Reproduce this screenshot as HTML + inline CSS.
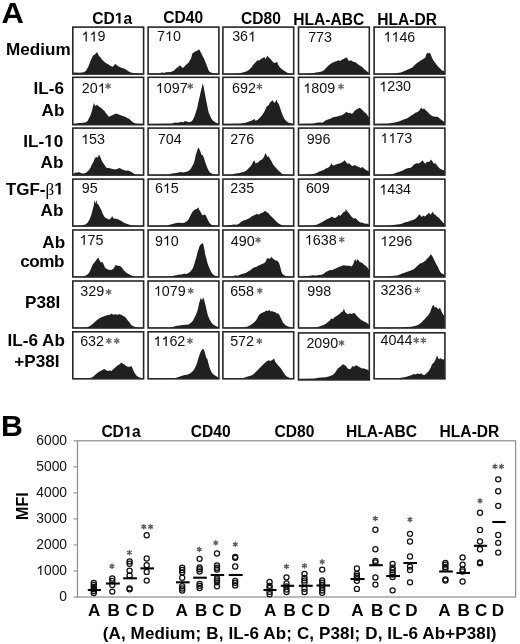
<!DOCTYPE html>
<html><head><meta charset="utf-8"><style>
html,body{margin:0;padding:0;background:#fff;overflow:hidden;}
svg{display:block;will-change:transform;font-family:"Liberation Sans",sans-serif;}
</style></head><body>
<svg width="520" height="644" viewBox="0 0 520 644">
<polygon points="72.8,74.1 73.9,72.5 79.7,72.8 84.0,72.3 86.1,70.4 88.3,66.8 90.5,61.0 92.3,57.0 93.4,55.3 94.8,54.5 96.2,53.1 97.2,52.1 98.1,54.5 99.1,56.0 100.6,57.4 102.0,59.6 104.2,61.7 106.3,63.2 108.5,64.6 110.7,66.1 112.8,66.8 114.3,65.1 115.4,63.9 116.9,65.3 118.6,66.5 120.8,67.5 122.9,68.2 125.1,68.9 127.2,70.4 128.7,71.4 130.9,72.5 134.5,73.3 143.1,73.6 143.6,74.1" fill="#202020"/>
<polygon points="148.1,74.1 148.9,73.6 160.4,73.3 161.9,72.3 163.3,73.0 166.2,72.3 170.5,72.0 173.4,71.1 174.8,69.7 176.3,68.2 178.5,66.8 179.9,65.3 181.3,66.8 182.8,67.9 184.2,66.8 186.4,64.6 188.5,62.7 190.0,60.3 191.4,57.4 192.2,53.8 193.6,52.4 195.8,51.2 197.6,50.6 199.1,49.2 200.1,50.9 201.5,53.8 203.0,56.7 204.4,59.6 205.9,63.2 207.3,66.8 208.3,69.7 209.5,71.8 211.6,72.8 213.8,73.3 218.1,73.6 218.9,74.1" fill="#202020"/>
<polygon points="222.9,74.1 223.9,73.7 238.3,73.4 242.6,72.5 246.2,71.4 249.1,69.7 251.3,67.5 253.5,64.6 255.6,62.2 257.8,60.0 258.8,60.7 260.7,59.3 262.8,58.1 264.3,57.0 265.7,59.3 267.2,55.5 268.6,57.4 270.0,58.4 271.5,60.3 273.6,62.7 275.8,62.7 277.2,61.7 278.0,64.6 279.4,66.8 281.6,68.9 284.5,71.1 287.3,72.8 290.2,73.4 293.1,73.7 293.7,74.1" fill="#202020"/>
<polygon points="298.5,74.1 299.9,73.7 312.9,73.3 315.8,72.5 318.6,72.3 321.5,71.4 323.7,70.4 325.8,68.2 328.0,66.1 330.2,64.2 332.3,62.7 334.8,61.7 337.1,61.0 338.8,60.3 340.3,61.0 342.0,59.6 343.9,58.9 345.3,57.8 346.8,57.4 347.8,59.3 348.9,61.0 351.1,60.3 353.2,61.7 355.4,62.2 357.6,63.9 359.7,65.6 361.9,66.8 364.1,68.9 366.2,70.8 368.4,72.5 369.1,73.7 369.3,74.1" fill="#202020"/>
<polygon points="374.1,74.1 374.9,73.7 393.6,73.4 400.8,72.5 404.5,71.1 407.3,69.7 410.2,68.5 412.4,67.5 414.5,65.3 416.7,63.2 418.9,61.7 421.0,60.3 423.2,58.9 425.4,57.4 426.5,53.8 427.5,52.4 428.5,53.8 429.7,52.4 430.8,54.5 431.9,57.4 433.3,60.3 435.5,63.2 437.6,66.1 439.8,68.2 442.0,70.4 444.1,71.1 444.4,73.7 444.9,74.1" fill="#202020"/>
<polygon points="72.8,124.7 73.9,123.7 79.7,123.0 85.4,122.5 87.6,121.1 89.0,118.2 90.5,115.3 91.9,111.0 92.9,106.7 93.8,103.1 94.8,105.3 95.8,106.0 97.0,104.5 98.1,106.0 99.8,107.0 101.3,108.1 102.7,109.6 104.5,111.0 105.6,112.7 107.1,114.6 108.8,116.8 110.7,116.1 112.8,115.1 114.3,114.2 116.4,113.6 118.6,114.6 120.8,115.3 122.9,116.1 125.1,116.8 127.2,117.9 129.4,118.9 130.9,120.4 132.3,121.8 133.7,122.8 135.9,123.4 143.1,123.7 143.6,124.7" fill="#202020"/>
<polygon points="148.1,124.7 148.9,123.7 172.0,123.4 174.8,122.5 177.7,122.8 180.6,122.0 183.5,122.3 184.9,121.1 187.1,121.8 189.3,122.3 191.4,121.4 192.9,119.7 194.3,116.8 195.3,113.9 196.5,110.3 197.6,106.0 198.6,100.9 199.7,96.6 200.8,91.6 202.0,86.5 202.7,83.6 203.4,85.8 204.4,90.8 205.4,96.6 206.6,102.4 207.7,108.1 208.7,112.5 210.2,116.1 211.6,118.9 213.1,120.8 215.2,122.3 217.4,123.3 218.8,123.7 218.9,124.7" fill="#202020"/>
<polygon points="222.9,124.7 223.9,123.7 239.8,123.4 245.5,122.8 249.1,121.4 252.0,120.4 254.2,118.9 255.6,120.8 257.8,119.7 259.9,117.5 262.1,115.3 264.3,111.7 266.0,108.1 267.2,106.0 268.6,105.3 270.0,102.4 271.8,100.9 272.9,100.2 274.1,103.1 275.5,101.7 276.5,99.5 277.5,102.4 278.7,103.8 280.1,108.1 281.6,112.5 283.0,116.1 284.5,118.9 286.2,121.1 288.1,122.5 291.0,123.3 293.7,123.7 293.7,124.7" fill="#202020"/>
<polygon points="298.5,124.7 299.9,123.7 312.9,123.4 318.6,122.5 323.0,122.5 325.1,120.8 327.3,119.7 329.5,118.9 331.6,117.9 333.8,117.1 335.9,116.8 338.8,116.1 341.0,115.6 343.2,114.6 345.3,112.7 346.8,111.7 348.2,113.2 350.1,112.7 351.8,113.9 353.2,112.7 354.7,110.7 356.4,109.6 358.3,108.4 359.7,107.8 361.2,108.9 362.6,110.3 364.5,112.2 366.2,113.6 368.0,116.1 369.3,118.2 369.3,123.7 369.3,124.7" fill="#202020"/>
<polygon points="374.1,124.7 374.9,123.7 387.9,123.4 393.6,122.8 398.0,121.8 400.8,120.8 403.0,119.7 405.2,118.9 407.3,118.2 409.5,116.8 411.7,115.3 413.8,113.9 415.3,112.7 417.0,112.2 418.9,111.0 420.3,108.9 421.3,107.8 422.8,109.3 424.2,108.4 425.7,110.3 427.5,111.7 429.0,113.6 431.1,115.3 433.3,116.5 435.5,116.8 437.6,116.8 439.1,117.9 440.9,119.4 442.7,120.8 444.1,121.8 444.8,123.7 444.9,124.7" fill="#202020"/>
<polygon points="72.8,175.1 73.9,174.7 73.9,173.5 75.3,172.4 76.8,172.8 78.9,172.1 81.1,173.3 84.0,173.5 86.1,172.8 88.3,170.7 90.5,167.8 91.9,164.6 93.4,162.0 94.8,158.4 96.2,157.0 97.7,157.7 99.1,154.5 100.6,157.7 102.0,161.3 103.5,163.5 104.9,165.6 106.3,167.8 108.5,168.1 110.7,168.5 112.8,168.9 115.0,169.5 117.2,168.9 119.3,168.1 121.5,168.9 123.6,169.9 125.8,170.7 128.0,170.4 129.4,170.9 130.9,171.8 132.3,172.4 133.7,173.5 135.2,174.4 143.1,174.7 143.6,175.1" fill="#202020"/>
<polygon points="148.1,175.1 148.9,174.7 169.1,174.4 172.0,173.5 174.8,173.3 177.7,172.8 180.6,172.1 183.5,172.4 186.4,171.8 188.5,170.9 190.7,168.9 192.2,166.3 193.6,163.7 194.8,159.9 195.8,154.8 197.2,150.5 198.2,147.6 199.4,149.1 200.5,151.9 201.5,154.8 203.0,155.5 204.1,158.4 205.1,162.0 206.3,164.9 207.3,167.8 208.7,170.7 210.2,172.8 212.3,173.8 215.2,174.4 218.8,174.7 218.9,175.1" fill="#202020"/>
<polygon points="222.9,175.1 223.9,174.7 232.5,174.4 235.4,173.5 238.3,173.3 241.2,172.4 244.1,171.8 246.2,170.7 248.4,168.5 250.6,166.3 252.0,164.2 253.5,161.3 254.5,160.6 255.6,163.5 257.1,162.7 258.8,162.0 260.2,160.3 262.1,159.4 264.0,157.0 265.4,153.1 266.4,154.8 267.4,157.0 268.6,156.3 270.0,159.1 271.5,161.3 272.9,164.2 274.4,166.3 275.8,167.8 277.2,169.2 278.7,170.7 280.1,172.1 281.6,173.5 283.7,174.4 293.1,174.7 293.7,175.1" fill="#202020"/>
<polygon points="298.5,175.1 299.9,174.7 310.0,174.4 314.3,173.8 317.2,172.8 319.4,171.4 321.5,170.7 323.7,169.9 325.8,168.5 328.0,167.8 329.9,166.3 331.3,163.2 332.3,164.9 334.2,165.6 335.9,164.6 338.1,163.7 340.3,163.2 342.4,162.3 344.6,160.3 346.0,162.0 347.5,163.7 349.2,163.2 351.1,165.2 353.0,166.1 354.7,164.9 356.9,166.3 359.0,167.1 360.8,168.1 362.6,167.1 364.1,168.5 365.9,169.9 367.7,170.7 369.1,171.8 369.3,174.7 369.3,175.1" fill="#202020"/>
<polygon points="374.1,175.1 374.9,174.7 389.3,174.4 393.6,173.8 396.5,172.8 399.4,171.8 402.3,170.7 404.5,169.5 406.6,168.5 408.8,168.1 410.9,167.8 412.4,166.3 414.5,164.2 416.7,163.2 418.9,163.5 421.0,161.7 422.5,160.3 423.9,162.3 425.4,163.7 426.8,161.7 429.0,162.0 431.1,159.4 432.6,161.7 434.0,163.7 435.5,163.2 436.9,165.2 438.3,167.1 439.8,168.5 441.5,169.5 443.0,169.9 444.4,170.7 444.8,174.7 444.9,175.1" fill="#202020"/>
<polygon points="72.8,226.1 73.9,225.7 81.1,225.4 85.4,224.5 87.6,222.8 89.5,219.5 91.2,215.2 92.6,210.1 93.8,205.1 94.5,200.1 95.5,203.7 96.4,200.1 97.2,203.7 98.4,204.4 99.8,207.3 101.3,210.1 102.7,213.7 104.2,216.6 105.6,218.1 107.3,218.8 109.2,219.5 111.1,218.1 112.1,215.9 113.1,218.1 115.0,218.8 117.2,219.1 119.3,219.9 121.5,220.9 123.6,222.4 125.8,223.4 128.7,224.5 131.6,225.4 143.1,225.7 143.6,226.1" fill="#202020"/>
<polygon points="148.1,226.1 148.9,225.7 167.6,225.4 170.5,224.5 173.4,223.8 176.3,223.1 179.2,222.8 182.1,223.1 184.2,222.8 186.4,221.7 188.5,219.5 190.0,216.6 191.4,213.7 192.9,211.3 195.0,209.4 196.8,209.0 198.2,207.3 199.4,210.1 200.8,212.3 202.2,215.2 203.7,214.7 205.1,214.5 206.3,216.6 207.7,219.5 209.2,222.4 210.9,224.5 213.8,225.4 218.8,225.7 218.9,226.1" fill="#202020"/>
<polygon points="222.9,226.1 223.9,225.7 229.7,225.3 234.0,224.5 236.9,224.8 239.0,223.8 241.2,221.7 243.4,220.5 245.5,219.9 247.7,219.1 249.8,218.1 251.6,216.6 253.5,215.6 255.3,214.7 257.1,213.7 258.8,214.7 260.7,213.3 262.5,212.7 264.3,211.3 265.4,210.9 266.9,212.3 268.3,213.0 270.0,215.2 272.2,217.3 274.4,219.5 276.5,221.7 278.7,223.4 280.9,224.8 283.0,225.4 293.1,225.7 293.7,226.1" fill="#202020"/>
<polygon points="298.5,226.1 299.9,225.7 312.9,225.4 316.5,224.8 319.4,223.4 322.2,221.9 325.1,220.2 327.3,219.1 329.9,218.1 331.9,216.6 333.1,217.6 335.2,218.1 337.4,216.6 338.8,214.7 340.3,215.9 341.7,214.2 343.4,212.3 345.3,211.3 346.0,209.0 347.2,211.3 348.6,212.7 350.1,214.7 351.8,217.1 354.0,218.8 355.4,218.1 356.9,219.5 358.3,220.9 360.5,222.4 362.6,222.8 364.8,223.8 367.0,223.4 369.1,224.8 369.3,225.7 369.3,226.1" fill="#202020"/>
<polygon points="374.1,226.1 374.9,225.7 389.3,225.4 395.1,224.8 399.4,224.3 402.3,223.4 404.5,222.4 406.6,221.9 408.8,221.4 410.9,220.5 413.1,219.9 415.3,218.8 417.0,217.3 418.4,215.6 419.6,214.2 420.8,215.9 421.8,217.1 423.2,215.6 424.6,216.6 426.1,215.6 427.5,214.2 429.0,212.7 430.4,214.7 431.9,213.0 432.9,211.6 434.0,214.2 435.5,214.7 436.9,216.6 438.3,217.3 439.8,218.8 441.2,220.5 443.0,222.4 444.4,223.8 444.8,225.7 444.9,226.1" fill="#202020"/>
<polygon points="72.8,277.0 73.9,276.7 82.5,276.4 85.4,275.8 87.6,274.4 89.5,271.9 91.2,268.3 92.6,264.7 94.4,262.6 95.8,260.8 97.0,259.0 98.4,257.5 99.6,260.4 101.0,262.6 102.4,261.9 103.5,264.0 104.9,267.6 106.8,269.1 108.8,269.8 111.1,270.1 113.1,269.1 114.6,266.9 115.7,264.7 117.2,265.7 119.3,265.7 120.8,266.6 122.2,268.1 123.6,270.1 125.5,271.9 127.5,273.4 129.4,274.4 131.6,275.5 134.5,276.4 143.1,276.7 143.6,277.0" fill="#202020"/>
<polygon points="148.1,277.0 148.9,276.7 170.5,276.4 174.8,275.5 178.5,274.8 181.3,274.4 184.2,273.8 186.4,274.1 188.5,272.9 190.7,271.2 192.4,269.1 193.6,266.2 194.8,262.6 195.8,259.0 196.8,255.4 197.9,251.1 199.1,247.4 200.1,245.0 201.5,244.1 203.0,243.1 203.7,246.0 204.4,249.6 205.1,253.9 206.3,258.3 207.3,262.6 208.3,265.5 209.5,268.3 210.9,271.2 212.3,273.8 214.5,275.5 217.4,276.4 218.8,276.7 218.9,277.0" fill="#202020"/>
<polygon points="222.9,277.0 223.9,276.7 232.5,276.4 235.4,275.3 237.6,275.8 239.8,274.8 241.9,274.1 244.1,273.4 246.2,272.7 248.4,271.2 250.6,270.1 252.4,268.6 254.5,267.2 256.3,266.9 258.2,265.7 260.2,264.7 262.1,264.0 264.0,263.3 265.7,261.4 266.9,258.5 268.6,258.3 270.0,259.0 271.2,256.8 272.6,258.3 274.1,259.4 275.5,260.4 277.0,260.4 278.4,261.9 279.4,264.0 280.4,267.6 281.3,271.2 282.3,273.8 284.5,275.5 287.3,276.4 293.7,276.7 293.7,277.0" fill="#202020"/>
<polygon points="298.5,277.0 299.9,276.7 305.7,276.3 310.0,275.8 312.9,275.3 315.8,275.5 318.6,275.0 321.5,274.8 323.7,273.8 325.8,271.9 328.0,270.9 330.2,270.1 332.3,270.1 334.5,269.1 336.7,268.1 338.8,266.9 341.0,266.2 343.2,265.2 345.3,265.5 347.5,265.7 349.6,265.7 351.8,266.6 353.2,264.0 354.4,260.8 355.4,259.0 356.4,261.4 357.6,259.0 358.7,260.4 359.7,261.9 361.2,262.6 362.6,263.3 364.1,264.7 365.5,265.7 367.0,266.9 368.4,269.1 369.3,270.5 369.3,276.7 369.3,277.0" fill="#202020"/>
<polygon points="374.1,277.0 374.9,276.7 389.3,276.4 393.6,275.8 397.2,275.5 399.4,274.8 401.6,273.8 403.7,272.9 406.6,271.9 408.8,271.2 410.9,270.5 413.1,269.5 415.0,268.3 416.7,266.6 418.2,265.2 419.6,263.7 421.3,263.3 422.8,262.6 424.2,261.4 425.7,260.4 427.1,258.5 428.5,257.5 429.7,256.1 430.8,254.2 432.3,256.1 433.7,259.0 435.2,261.9 436.6,264.7 438.1,267.6 439.5,270.5 440.9,272.7 442.7,274.1 444.4,274.8 444.8,276.7 444.9,277.0" fill="#202020"/>
<polygon points="72.8,328.0 73.9,327.7 85.4,327.4 88.3,326.8 90.5,325.8 92.6,323.9 94.8,321.9 97.0,320.1 99.1,318.6 101.3,317.2 103.5,316.5 105.6,315.7 107.8,315.0 109.9,314.7 111.7,313.6 113.1,314.7 115.0,314.3 117.2,314.7 119.3,314.3 121.2,314.7 122.9,315.7 124.7,316.7 126.5,318.6 128.0,320.8 129.4,322.2 130.9,324.4 132.3,325.8 134.5,326.8 137.3,327.4 143.1,327.7 143.6,328.0" fill="#202020"/>
<polygon points="148.1,328.0 148.9,327.7 170.5,327.4 174.1,326.5 177.0,325.8 179.9,325.4 182.8,325.1 185.7,324.8 188.5,324.4 190.7,322.9 192.9,320.8 194.3,317.9 195.8,315.0 197.2,311.4 198.2,307.8 199.1,303.5 200.1,299.9 200.8,297.7 202.0,300.6 203.0,297.4 204.0,299.2 204.8,302.8 205.9,307.1 206.9,311.4 208.0,315.7 209.5,319.3 211.2,322.2 213.1,324.4 215.2,325.8 217.4,326.8 218.8,327.7 218.9,328.0" fill="#202020"/>
<polygon points="222.9,328.0 223.9,327.7 242.6,327.4 247.0,326.8 249.8,325.4 252.4,323.7 254.5,321.9 256.3,320.1 257.8,317.2 259.2,314.7 261.1,313.3 262.8,312.4 264.6,311.8 266.4,310.4 267.9,311.0 269.3,310.0 270.8,311.4 272.2,311.0 273.6,312.1 275.1,311.8 276.5,313.6 278.0,313.3 279.4,315.0 280.4,317.2 281.6,319.6 282.7,321.9 284.2,323.9 285.9,325.4 288.1,326.5 291.0,327.4 293.7,327.7 293.7,328.0" fill="#202020"/>
<polygon points="298.5,328.0 299.9,327.7 315.8,327.4 319.4,326.5 321.5,325.8 323.7,325.1 325.8,323.7 328.0,321.9 329.9,320.5 331.3,318.2 332.8,319.3 334.5,317.2 336.2,316.2 338.1,315.0 340.0,313.6 341.7,311.8 342.9,311.4 343.9,308.5 344.9,311.4 346.3,313.3 348.2,314.3 350.1,313.3 351.8,313.9 353.5,312.9 354.7,313.3 356.1,315.0 357.6,316.7 359.3,318.2 361.2,320.1 363.1,321.1 364.8,321.9 366.5,322.5 368.0,323.9 369.1,325.1 369.3,327.7 369.3,328.0" fill="#202020"/>
<polygon points="374.1,328.0 374.9,327.7 400.8,327.4 406.6,327.1 410.9,326.8 413.8,326.3 416.7,325.4 418.9,324.4 420.8,322.9 422.5,321.5 423.9,320.1 425.4,318.2 426.8,316.7 428.2,315.3 429.4,313.6 430.4,311.4 431.4,308.5 432.6,305.7 433.7,304.9 434.7,307.5 436.2,307.1 437.6,308.5 438.6,309.5 439.8,307.5 440.9,310.0 442.0,312.4 443.0,314.3 444.1,315.7 444.8,327.7 444.9,328.0" fill="#202020"/>
<polygon points="72.8,378.8 73.9,378.7 86.9,378.4 91.2,377.8 93.4,376.4 95.2,374.7 97.0,373.2 98.7,372.1 100.6,371.1 102.4,370.1 104.2,368.9 105.9,370.1 107.8,371.1 109.7,370.6 111.4,371.1 113.1,369.2 115.0,367.7 116.9,366.0 118.3,364.9 120.0,363.9 121.2,362.4 122.6,363.4 124.4,364.6 126.1,366.0 128.0,366.7 129.8,366.7 131.3,366.0 132.3,367.7 133.3,370.3 134.8,373.2 136.6,375.8 138.8,377.3 141.7,378.1 143.6,378.7 143.6,378.8" fill="#202020"/>
<polygon points="148.1,378.8 148.9,378.7 172.0,378.4 176.3,377.8 179.2,376.8 182.1,375.8 184.9,374.9 187.8,374.4 190.0,373.5 191.9,372.1 193.6,370.3 195.0,367.7 196.5,364.6 197.6,361.0 198.6,357.4 199.7,354.2 200.8,351.6 202.2,349.4 203.4,348.7 204.4,350.9 205.4,354.5 206.3,358.1 207.3,358.8 208.3,363.1 209.5,367.5 210.9,371.1 212.3,373.2 214.1,374.9 216.0,376.1 217.8,377.3 218.8,378.7 218.9,378.8" fill="#202020"/>
<polygon points="222.9,378.8 223.9,378.7 239.8,378.4 244.1,377.8 247.0,376.8 249.8,376.1 252.4,374.9 254.5,373.2 256.3,371.5 258.2,369.6 259.9,367.7 261.7,366.0 263.5,364.3 265.4,362.4 267.2,361.0 268.9,360.3 270.3,361.0 271.8,360.3 272.9,359.5 274.1,358.5 275.1,361.4 276.5,363.4 278.0,365.3 279.4,366.7 280.9,368.6 282.3,370.6 283.7,372.9 285.2,374.9 287.1,376.8 289.5,377.8 293.7,378.7 293.7,378.8" fill="#202020"/>
<polygon points="298.5,379.9 299.9,378.7 314.3,378.4 318.6,377.8 322.2,377.5 325.8,377.3 328.7,376.4 330.9,375.8 333.1,374.7 334.8,372.9 336.2,371.1 337.7,368.6 339.1,367.5 341.0,366.0 342.9,364.3 344.3,364.9 346.0,366.0 347.5,368.2 349.2,369.2 351.1,368.6 352.1,366.0 353.5,366.7 354.7,366.3 356.1,365.3 357.6,366.0 359.0,366.7 360.5,367.7 362.2,368.6 363.6,368.2 365.1,368.9 367.0,369.6 368.4,370.3 369.3,371.5 369.3,378.7 369.3,379.9" fill="#202020"/>
<polygon points="374.1,378.8 374.9,378.7 396.5,378.4 400.8,377.8 404.5,377.3 407.3,376.4 409.8,375.8 411.7,374.9 413.8,373.9 415.6,374.4 417.4,373.5 419.6,373.9 421.3,373.2 422.8,374.7 424.6,374.9 426.5,373.2 428.2,371.8 429.7,369.6 430.8,367.5 431.9,364.6 432.9,363.4 434.0,362.4 435.2,360.3 436.2,358.1 436.9,355.2 438.1,357.7 439.1,359.5 440.1,358.1 441.2,358.8 442.4,359.5 443.4,359.1 444.4,360.5 444.8,378.7 444.9,378.8" fill="#202020"/>
<rect x="72.80" y="27.10" width="70.80" height="47.00" fill="none" stroke="#262626" stroke-width="1.6"/>
<rect x="148.10" y="27.10" width="70.80" height="47.00" fill="none" stroke="#262626" stroke-width="1.6"/>
<rect x="222.90" y="27.10" width="70.80" height="47.00" fill="none" stroke="#262626" stroke-width="1.6"/>
<rect x="298.50" y="27.10" width="70.80" height="47.00" fill="none" stroke="#262626" stroke-width="1.6"/>
<rect x="374.10" y="27.10" width="70.80" height="47.00" fill="none" stroke="#262626" stroke-width="1.6"/>
<rect x="72.80" y="77.30" width="70.80" height="47.40" fill="none" stroke="#262626" stroke-width="1.6"/>
<rect x="148.10" y="77.30" width="70.80" height="47.40" fill="none" stroke="#262626" stroke-width="1.6"/>
<rect x="222.90" y="77.30" width="70.80" height="47.40" fill="none" stroke="#262626" stroke-width="1.6"/>
<rect x="298.50" y="77.30" width="70.80" height="47.40" fill="none" stroke="#262626" stroke-width="1.6"/>
<rect x="374.10" y="77.30" width="70.80" height="47.40" fill="none" stroke="#262626" stroke-width="1.6"/>
<rect x="72.80" y="128.10" width="70.80" height="47.00" fill="none" stroke="#262626" stroke-width="1.6"/>
<rect x="148.10" y="128.10" width="70.80" height="47.00" fill="none" stroke="#262626" stroke-width="1.6"/>
<rect x="222.90" y="128.10" width="70.80" height="47.00" fill="none" stroke="#262626" stroke-width="1.6"/>
<rect x="298.50" y="128.10" width="70.80" height="47.00" fill="none" stroke="#262626" stroke-width="1.6"/>
<rect x="374.10" y="128.10" width="70.80" height="47.00" fill="none" stroke="#262626" stroke-width="1.6"/>
<rect x="72.80" y="179.10" width="70.80" height="47.00" fill="none" stroke="#262626" stroke-width="1.6"/>
<rect x="148.10" y="179.10" width="70.80" height="47.00" fill="none" stroke="#262626" stroke-width="1.6"/>
<rect x="222.90" y="179.10" width="70.80" height="47.00" fill="none" stroke="#262626" stroke-width="1.6"/>
<rect x="298.50" y="179.10" width="70.80" height="47.00" fill="none" stroke="#262626" stroke-width="1.6"/>
<rect x="374.10" y="179.10" width="70.80" height="47.00" fill="none" stroke="#262626" stroke-width="1.6"/>
<rect x="72.80" y="230.00" width="70.80" height="47.00" fill="none" stroke="#262626" stroke-width="1.6"/>
<rect x="148.10" y="230.00" width="70.80" height="47.00" fill="none" stroke="#262626" stroke-width="1.6"/>
<rect x="222.90" y="230.00" width="70.80" height="47.00" fill="none" stroke="#262626" stroke-width="1.6"/>
<rect x="298.50" y="230.00" width="70.80" height="47.00" fill="none" stroke="#262626" stroke-width="1.6"/>
<rect x="374.10" y="230.00" width="70.80" height="47.00" fill="none" stroke="#262626" stroke-width="1.6"/>
<rect x="72.80" y="281.00" width="70.80" height="47.00" fill="none" stroke="#262626" stroke-width="1.6"/>
<rect x="148.10" y="281.00" width="70.80" height="47.00" fill="none" stroke="#262626" stroke-width="1.6"/>
<rect x="222.90" y="281.00" width="70.80" height="47.00" fill="none" stroke="#262626" stroke-width="1.6"/>
<rect x="298.50" y="281.00" width="70.80" height="47.00" fill="none" stroke="#262626" stroke-width="1.6"/>
<rect x="374.10" y="281.00" width="70.80" height="47.00" fill="none" stroke="#262626" stroke-width="1.6"/>
<rect x="72.80" y="331.80" width="70.80" height="47.00" fill="none" stroke="#262626" stroke-width="1.6"/>
<rect x="148.10" y="331.80" width="70.80" height="47.00" fill="none" stroke="#262626" stroke-width="1.6"/>
<rect x="222.90" y="331.80" width="70.80" height="47.00" fill="none" stroke="#262626" stroke-width="1.6"/>
<rect x="298.50" y="332.90" width="70.80" height="47.00" fill="none" stroke="#262626" stroke-width="1.6"/>
<rect x="374.10" y="332.80" width="70.80" height="46.00" fill="none" stroke="#262626" stroke-width="1.6"/>
<text x="97.38" y="41.45" font-size="14.3" fill="#111">9</text><path transform="translate(81.48,41.45) scale(0.00698,-0.00698)" d="M763 0L583 0L583 1102C518 1042 412 981 223 906L223 1073C373 1142 520 1240 629 1409L763 1409Z" fill="#111"/><path transform="translate(89.43,41.45) scale(0.00698,-0.00698)" d="M763 0L583 0L583 1102C518 1042 412 981 223 906L223 1073C373 1142 520 1240 629 1409L763 1409Z" fill="#111"/>
<text x="156.99 172.89" y="41.02" font-size="14.3" fill="#111">70</text><path transform="translate(164.94,41.02) scale(0.00698,-0.00698)" d="M763 0L583 0L583 1102C518 1042 412 981 223 906L223 1073C373 1142 520 1240 629 1409L763 1409Z" fill="#111"/>
<text x="232.17 240.12" y="41.45" font-size="14.3" fill="#111">36</text><path transform="translate(248.08,41.45) scale(0.00698,-0.00698)" d="M763 0L583 0L583 1102C518 1042 412 981 223 906L223 1073C373 1142 520 1240 629 1409L763 1409Z" fill="#111"/>
<text x="308.14 316.09 324.05" y="42.05" font-size="14.3" fill="#111">773</text>
<text x="399.41 407.36" y="41.67" font-size="14.3" fill="#111">46</text><path transform="translate(383.50,41.67) scale(0.00698,-0.00698)" d="M763 0L583 0L583 1102C518 1042 412 981 223 906L223 1073C373 1142 520 1240 629 1409L763 1409Z" fill="#111"/><path transform="translate(391.45,41.67) scale(0.00698,-0.00698)" d="M763 0L583 0L583 1102C518 1042 412 981 223 906L223 1073C373 1142 520 1240 629 1409L763 1409Z" fill="#111"/>
<text x="81.82 89.77" y="93.08" font-size="14.3" fill="#111">20</text><path transform="translate(97.72,93.08) scale(0.00698,-0.00698)" d="M763 0L583 0L583 1102C518 1042 412 981 223 906L223 1073C373 1142 520 1240 629 1409L763 1409Z" fill="#111"/>
<path d="M108.07 83.49L108.07 88.69M105.82 84.79L110.32 87.39M105.82 87.39L110.32 84.79" stroke="#666" stroke-width="1.3" stroke-linecap="round" fill="none"/>
<text x="163.72 171.67 179.63" y="92.90" font-size="14.3" fill="#111">097</text><path transform="translate(155.77,92.90) scale(0.00698,-0.00698)" d="M763 0L583 0L583 1102C518 1042 412 981 223 906L223 1073C373 1142 520 1240 629 1409L763 1409Z" fill="#111"/>
<path d="M190.28 83.49L190.28 88.69M188.03 84.79L192.53 87.39M188.03 87.39L192.53 84.79" stroke="#666" stroke-width="1.3" stroke-linecap="round" fill="none"/>
<text x="232.11 240.06 248.02" y="93.08" font-size="14.3" fill="#111">692</text>
<path d="M259.37 83.93L259.37 89.13M257.11 85.23L261.62 87.83M257.11 87.83L261.62 85.23" stroke="#666" stroke-width="1.3" stroke-linecap="round" fill="none"/>
<text x="311.23 319.19 327.14" y="93.08" font-size="14.3" fill="#111">809</text><path transform="translate(303.28,93.08) scale(0.00698,-0.00698)" d="M763 0L583 0L583 1102C518 1042 412 981 223 906L223 1073C373 1142 520 1240 629 1409L763 1409Z" fill="#111"/>
<path d="M340.99 83.93L340.99 89.13M338.74 85.23L343.24 87.83M338.74 87.83L343.24 85.23" stroke="#666" stroke-width="1.3" stroke-linecap="round" fill="none"/>
<text x="387.21 395.16 403.11" y="91.45" font-size="14.3" fill="#111">230</text><path transform="translate(379.25,91.45) scale(0.00698,-0.00698)" d="M763 0L583 0L583 1102C518 1042 412 981 223 906L223 1073C373 1142 520 1240 629 1409L763 1409Z" fill="#111"/>
<text x="89.12 97.08" y="144.08" font-size="14.3" fill="#111">53</text><path transform="translate(81.17,144.08) scale(0.00698,-0.00698)" d="M763 0L583 0L583 1102C518 1042 412 981 223 906L223 1073C373 1142 520 1240 629 1409L763 1409Z" fill="#111"/>
<text x="157.79 165.75 173.70" y="143.98" font-size="14.3" fill="#111">704</text>
<text x="230.29 238.24 246.19" y="143.98" font-size="14.3" fill="#111">276</text>
<text x="306.66 314.61 322.56" y="143.98" font-size="14.3" fill="#111">996</text>
<text x="396.27 404.22" y="142.97" font-size="14.3" fill="#111">73</text><path transform="translate(380.36,142.97) scale(0.00698,-0.00698)" d="M763 0L583 0L583 1102C518 1042 412 981 223 906L223 1073C373 1142 520 1240 629 1409L763 1409Z" fill="#111"/><path transform="translate(388.32,142.97) scale(0.00698,-0.00698)" d="M763 0L583 0L583 1102C518 1042 412 981 223 906L223 1073C373 1142 520 1240 629 1409L763 1409Z" fill="#111"/>
<text x="81.76 89.71" y="193.10" font-size="14.3" fill="#111">95</text>
<text x="154.90 170.81" y="193.10" font-size="14.3" fill="#111">65</text><path transform="translate(162.86,193.10) scale(0.00698,-0.00698)" d="M763 0L583 0L583 1102C518 1042 412 981 223 906L223 1073C373 1142 520 1240 629 1409L763 1409Z" fill="#111"/>
<text x="230.29 238.24 246.19" y="193.10" font-size="14.3" fill="#111">235</text>
<text x="305.90 313.86 321.81" y="193.10" font-size="14.3" fill="#111">609</text>
<text x="387.21 395.16 403.11" y="194.39" font-size="14.3" fill="#111">434</text><path transform="translate(379.25,194.39) scale(0.00698,-0.00698)" d="M763 0L583 0L583 1102C518 1042 412 981 223 906L223 1073C373 1142 520 1240 629 1409L763 1409Z" fill="#111"/>
<text x="87.43 95.38" y="244.79" font-size="14.3" fill="#111">75</text><path transform="translate(79.47,244.79) scale(0.00698,-0.00698)" d="M763 0L583 0L583 1102C518 1042 412 981 223 906L223 1073C373 1142 520 1240 629 1409L763 1409Z" fill="#111"/>
<text x="154.90 170.81" y="245.62" font-size="14.3" fill="#111">90</text><path transform="translate(162.86,245.62) scale(0.00698,-0.00698)" d="M763 0L583 0L583 1102C518 1042 412 981 223 906L223 1073C373 1142 520 1240 629 1409L763 1409Z" fill="#111"/>
<text x="230.79 238.74 246.69" y="245.62" font-size="14.3" fill="#111">490</text>
<path d="M258.07 237.21L258.07 242.41M255.82 238.51L260.32 241.11M255.82 241.11L260.32 238.51" stroke="#666" stroke-width="1.3" stroke-linecap="round" fill="none"/>
<text x="312.78 320.73 328.68" y="244.79" font-size="14.3" fill="#111">638</text><path transform="translate(304.82,244.79) scale(0.00698,-0.00698)" d="M763 0L583 0L583 1102C518 1042 412 981 223 906L223 1073C373 1142 520 1240 629 1409L763 1409Z" fill="#111"/>
<path d="M341.71 236.93L341.71 242.13M339.46 238.23L343.96 240.83M339.46 240.83L343.96 238.23" stroke="#666" stroke-width="1.3" stroke-linecap="round" fill="none"/>
<text x="388.24 396.19 404.15" y="245.98" font-size="14.3" fill="#111">296</text><path transform="translate(380.29,245.98) scale(0.00698,-0.00698)" d="M763 0L583 0L583 1102C518 1042 412 981 223 906L223 1073C373 1142 520 1240 629 1409L763 1409Z" fill="#111"/>
<text x="80.29 88.24 96.19" y="295.79" font-size="14.3" fill="#111">329</text>
<path d="M108.64 289.37L108.64 294.57M106.39 290.67L110.90 293.27M106.39 293.27L110.90 290.67" stroke="#666" stroke-width="1.3" stroke-linecap="round" fill="none"/>
<text x="161.78 169.73 177.68" y="295.79" font-size="14.3" fill="#111">079</text><path transform="translate(153.82,295.79) scale(0.00698,-0.00698)" d="M763 0L583 0L583 1102C518 1042 412 981 223 906L223 1073C373 1142 520 1240 629 1409L763 1409Z" fill="#111"/>
<path d="M190.71 288.21L190.71 293.41M188.46 289.51L192.96 292.11M188.46 292.11L192.96 289.51" stroke="#666" stroke-width="1.3" stroke-linecap="round" fill="none"/>
<text x="230.13 238.09 246.04" y="295.79" font-size="14.3" fill="#111">658</text>
<path d="M259.80 288.07L259.80 293.27M257.55 289.37L262.05 291.97M257.55 291.97L262.05 289.37" stroke="#666" stroke-width="1.3" stroke-linecap="round" fill="none"/>
<text x="307.22 315.18 323.13" y="295.79" font-size="14.3" fill="#111">998</text>
<text x="380.42 388.37 396.32 404.27" y="294.66" font-size="14.3" fill="#111">3236</text>
<path d="M417.43 287.64L417.43 292.84M415.18 288.94L419.68 291.54M415.18 291.54L419.68 288.94" stroke="#666" stroke-width="1.3" stroke-linecap="round" fill="none"/>
<text x="80.14 88.09 96.04" y="346.10" font-size="14.3" fill="#111">632</text>
<path d="M108.79 338.21L108.79 343.41M106.54 339.51L111.04 342.11M106.54 342.11L111.04 339.51" stroke="#666" stroke-width="1.3" stroke-linecap="round" fill="none"/>
<path d="M116.72 338.21L116.72 343.41M114.47 339.51L118.97 342.11M114.47 342.11L118.97 339.51" stroke="#666" stroke-width="1.3" stroke-linecap="round" fill="none"/>
<text x="169.38 177.33" y="346.10" font-size="14.3" fill="#111">62</text><path transform="translate(153.47,346.10) scale(0.00698,-0.00698)" d="M763 0L583 0L583 1102C518 1042 412 981 223 906L223 1073C373 1142 520 1240 629 1409L763 1409Z" fill="#111"/><path transform="translate(161.43,346.10) scale(0.00698,-0.00698)" d="M763 0L583 0L583 1102C518 1042 412 981 223 906L223 1073C373 1142 520 1240 629 1409L763 1409Z" fill="#111"/>
<path d="M189.99 338.21L189.99 343.41M187.74 339.51L192.24 342.11M187.74 342.11L192.24 339.51" stroke="#666" stroke-width="1.3" stroke-linecap="round" fill="none"/>
<text x="230.13 238.09 246.04" y="346.10" font-size="14.3" fill="#111">572</text>
<path d="M259.37 338.49L259.37 343.69M257.11 339.79L261.62 342.39M257.11 342.39L261.62 339.79" stroke="#666" stroke-width="1.3" stroke-linecap="round" fill="none"/>
<text x="306.42 314.37 322.32 330.27" y="348.06" font-size="14.3" fill="#111">2090</text>
<path d="M341.57 340.37L341.57 345.57M339.32 341.67L343.82 344.27M339.32 344.27L343.82 341.67" stroke="#666" stroke-width="1.3" stroke-linecap="round" fill="none"/>
<text x="380.54 388.50 396.45 404.40" y="345.43" font-size="14.3" fill="#111">4044</text>
<path d="M416.28 337.77L416.28 342.97M414.03 339.07L418.53 341.67M414.03 341.67L418.53 339.07" stroke="#666" stroke-width="1.3" stroke-linecap="round" fill="none"/>
<path d="M423.35 337.77L423.35 342.97M421.09 339.07L425.60 341.67M421.09 341.67L425.60 339.07" stroke="#666" stroke-width="1.3" stroke-linecap="round" fill="none"/>
<rect x="77.5" y="440.8" width="438.1" height="156.2" fill="none" stroke="#8c8c8c" stroke-width="1.2"/>
<line x1="73.5" y1="597.00" x2="77.5" y2="597.00" stroke="#8c8c8c" stroke-width="1.1"/>
<text x="59.33" y="601.10" font-size="13.8" fill="#111">0</text>
<line x1="73.5" y1="570.97" x2="77.5" y2="570.97" stroke="#8c8c8c" stroke-width="1.1"/>
<text x="43.98 51.65 59.33" y="575.07" font-size="13.8" fill="#111">000</text><path transform="translate(36.30,575.07) scale(0.00674,-0.00674)" d="M763 0L583 0L583 1102C518 1042 412 981 223 906L223 1073C373 1142 520 1240 629 1409L763 1409Z" fill="#111"/>
<line x1="73.5" y1="544.94" x2="77.5" y2="544.94" stroke="#8c8c8c" stroke-width="1.1"/>
<text x="36.30 43.98 51.65 59.33" y="549.04" font-size="13.8" fill="#111">2000</text>
<line x1="73.5" y1="518.91" x2="77.5" y2="518.91" stroke="#8c8c8c" stroke-width="1.1"/>
<text x="36.30 43.98 51.65 59.33" y="523.01" font-size="13.8" fill="#111">3000</text>
<line x1="73.5" y1="492.88" x2="77.5" y2="492.88" stroke="#8c8c8c" stroke-width="1.1"/>
<text x="36.30 43.98 51.65 59.33" y="496.98" font-size="13.8" fill="#111">4000</text>
<line x1="73.5" y1="466.85" x2="77.5" y2="466.85" stroke="#8c8c8c" stroke-width="1.1"/>
<text x="36.30 43.98 51.65 59.33" y="470.95" font-size="13.8" fill="#111">5000</text>
<line x1="73.5" y1="440.82" x2="77.5" y2="440.82" stroke="#8c8c8c" stroke-width="1.1"/>
<text x="36.30 43.98 51.65 59.33" y="444.92" font-size="13.8" fill="#111">6000</text>
<circle cx="93.8" cy="583" r="2.55" fill="none" stroke="#111" stroke-width="1.25"/>
<circle cx="93.8" cy="585" r="2.55" fill="none" stroke="#111" stroke-width="1.25"/>
<circle cx="93.8" cy="587" r="2.55" fill="none" stroke="#111" stroke-width="1.25"/>
<circle cx="93.8" cy="589" r="2.55" fill="none" stroke="#111" stroke-width="1.25"/>
<circle cx="93.8" cy="591" r="2.55" fill="none" stroke="#111" stroke-width="1.25"/>
<circle cx="93.8" cy="593" r="2.55" fill="none" stroke="#111" stroke-width="1.25"/>
<line x1="87.8" y1="590" x2="100.9" y2="590" stroke="#000" stroke-width="2.1"/>
<circle cx="112.3" cy="578.5" r="2.55" fill="none" stroke="#111" stroke-width="1.25"/>
<circle cx="112.3" cy="581" r="2.55" fill="none" stroke="#111" stroke-width="1.25"/>
<circle cx="112.3" cy="585" r="2.55" fill="none" stroke="#111" stroke-width="1.25"/>
<circle cx="112.3" cy="591.6" r="2.55" fill="none" stroke="#111" stroke-width="1.25"/>
<line x1="105.9" y1="583.5" x2="119.8" y2="583.5" stroke="#000" stroke-width="2.1"/>
<path d="M112.00 564.00L112.00 568.40M110.09 565.10L113.91 567.30M110.09 567.30L113.91 565.10" stroke="#606060" stroke-width="1.4" stroke-linecap="round" fill="none"/>
<circle cx="129.6" cy="561.4" r="2.55" fill="none" stroke="#111" stroke-width="1.25"/>
<circle cx="129.6" cy="563.7" r="2.55" fill="none" stroke="#111" stroke-width="1.25"/>
<circle cx="129.6" cy="570.7" r="2.55" fill="none" stroke="#111" stroke-width="1.25"/>
<circle cx="129.6" cy="575.4" r="2.55" fill="none" stroke="#111" stroke-width="1.25"/>
<circle cx="129.6" cy="588.3" r="2.55" fill="none" stroke="#111" stroke-width="1.25"/>
<circle cx="129.6" cy="589.3" r="2.55" fill="none" stroke="#111" stroke-width="1.25"/>
<line x1="123.2" y1="578.3" x2="136.9" y2="578.3" stroke="#000" stroke-width="2.1"/>
<path d="M129.40 550.40L129.40 554.80M127.49 551.50L131.31 553.70M127.49 553.70L131.31 551.50" stroke="#606060" stroke-width="1.4" stroke-linecap="round" fill="none"/>
<circle cx="146.7" cy="535.2" r="2.55" fill="none" stroke="#111" stroke-width="1.25"/>
<circle cx="146.7" cy="558.5" r="2.55" fill="none" stroke="#111" stroke-width="1.25"/>
<circle cx="146.7" cy="565.2" r="2.55" fill="none" stroke="#111" stroke-width="1.25"/>
<circle cx="146.7" cy="571.9" r="2.55" fill="none" stroke="#111" stroke-width="1.25"/>
<circle cx="146.7" cy="580.6" r="2.55" fill="none" stroke="#111" stroke-width="1.25"/>
<line x1="140.4" y1="568.4" x2="154.0" y2="568.4" stroke="#000" stroke-width="2.1"/>
<path d="M143.80 524.60L143.80 529.00M141.89 525.70L145.71 527.90M141.89 527.90L145.71 525.70" stroke="#606060" stroke-width="1.4" stroke-linecap="round" fill="none"/>
<path d="M150.60 524.60L150.60 529.00M148.69 525.70L152.51 527.90M148.69 527.90L152.51 525.70" stroke="#606060" stroke-width="1.4" stroke-linecap="round" fill="none"/>
<circle cx="182.2" cy="567.7" r="2.55" fill="none" stroke="#111" stroke-width="1.25"/>
<circle cx="182.2" cy="570" r="2.55" fill="none" stroke="#111" stroke-width="1.25"/>
<circle cx="182.2" cy="572.3" r="2.55" fill="none" stroke="#111" stroke-width="1.25"/>
<circle cx="182.2" cy="577.7" r="2.55" fill="none" stroke="#111" stroke-width="1.25"/>
<circle cx="182.2" cy="586.2" r="2.55" fill="none" stroke="#111" stroke-width="1.25"/>
<circle cx="182.2" cy="588.5" r="2.55" fill="none" stroke="#111" stroke-width="1.25"/>
<circle cx="182.2" cy="590.5" r="2.55" fill="none" stroke="#111" stroke-width="1.25"/>
<line x1="176.0" y1="582.3" x2="189.6" y2="582.3" stroke="#000" stroke-width="2.1"/>
<circle cx="199.6" cy="558.8" r="2.55" fill="none" stroke="#111" stroke-width="1.25"/>
<circle cx="199.6" cy="567.4" r="2.55" fill="none" stroke="#111" stroke-width="1.25"/>
<circle cx="199.6" cy="569.2" r="2.55" fill="none" stroke="#111" stroke-width="1.25"/>
<circle cx="199.6" cy="571.5" r="2.55" fill="none" stroke="#111" stroke-width="1.25"/>
<circle cx="199.6" cy="583.8" r="2.55" fill="none" stroke="#111" stroke-width="1.25"/>
<circle cx="199.6" cy="585.8" r="2.55" fill="none" stroke="#111" stroke-width="1.25"/>
<circle cx="199.6" cy="588" r="2.55" fill="none" stroke="#111" stroke-width="1.25"/>
<line x1="193.2" y1="577.7" x2="206.8" y2="577.7" stroke="#000" stroke-width="2.1"/>
<path d="M199.30 547.20L199.30 551.60M197.39 548.30L201.21 550.50M197.39 550.50L201.21 548.30" stroke="#606060" stroke-width="1.4" stroke-linecap="round" fill="none"/>
<circle cx="217.0" cy="553.5" r="2.55" fill="none" stroke="#111" stroke-width="1.25"/>
<circle cx="217.0" cy="565.4" r="2.55" fill="none" stroke="#111" stroke-width="1.25"/>
<circle cx="217.0" cy="567.7" r="2.55" fill="none" stroke="#111" stroke-width="1.25"/>
<circle cx="217.0" cy="569.5" r="2.55" fill="none" stroke="#111" stroke-width="1.25"/>
<circle cx="217.0" cy="578.5" r="2.55" fill="none" stroke="#111" stroke-width="1.25"/>
<circle cx="217.0" cy="580.3" r="2.55" fill="none" stroke="#111" stroke-width="1.25"/>
<circle cx="217.0" cy="582.3" r="2.55" fill="none" stroke="#111" stroke-width="1.25"/>
<circle cx="217.0" cy="586.2" r="2.55" fill="none" stroke="#111" stroke-width="1.25"/>
<line x1="210.7" y1="575.0" x2="224.2" y2="575.0" stroke="#000" stroke-width="2.1"/>
<path d="M215.80 540.70L215.80 545.10M213.89 541.80L217.71 544.00M213.89 544.00L217.71 541.80" stroke="#606060" stroke-width="1.4" stroke-linecap="round" fill="none"/>
<circle cx="235.2" cy="556.8" r="2.55" fill="none" stroke="#111" stroke-width="1.25"/>
<circle cx="235.2" cy="557.8" r="2.55" fill="none" stroke="#111" stroke-width="1.25"/>
<circle cx="235.2" cy="566.5" r="2.55" fill="none" stroke="#111" stroke-width="1.25"/>
<circle cx="235.2" cy="580.8" r="2.55" fill="none" stroke="#111" stroke-width="1.25"/>
<circle cx="235.2" cy="582.8" r="2.55" fill="none" stroke="#111" stroke-width="1.25"/>
<circle cx="235.2" cy="585.4" r="2.55" fill="none" stroke="#111" stroke-width="1.25"/>
<line x1="228.8" y1="575.0" x2="242.7" y2="575.0" stroke="#000" stroke-width="2.1"/>
<path d="M235.30 542.20L235.30 546.60M233.39 543.30L237.21 545.50M233.39 545.50L237.21 543.30" stroke="#606060" stroke-width="1.4" stroke-linecap="round" fill="none"/>
<circle cx="269.6" cy="581.9" r="2.55" fill="none" stroke="#111" stroke-width="1.25"/>
<circle cx="269.6" cy="585.8" r="2.55" fill="none" stroke="#111" stroke-width="1.25"/>
<circle cx="269.6" cy="588" r="2.55" fill="none" stroke="#111" stroke-width="1.25"/>
<circle cx="269.6" cy="591.9" r="2.55" fill="none" stroke="#111" stroke-width="1.25"/>
<circle cx="269.6" cy="594.2" r="2.55" fill="none" stroke="#111" stroke-width="1.25"/>
<line x1="263.5" y1="590.0" x2="276.5" y2="590.0" stroke="#000" stroke-width="2.1"/>
<circle cx="286.5" cy="577.3" r="2.55" fill="none" stroke="#111" stroke-width="1.25"/>
<circle cx="286.5" cy="583.5" r="2.55" fill="none" stroke="#111" stroke-width="1.25"/>
<circle cx="286.5" cy="586.5" r="2.55" fill="none" stroke="#111" stroke-width="1.25"/>
<circle cx="286.5" cy="589.6" r="2.55" fill="none" stroke="#111" stroke-width="1.25"/>
<circle cx="286.5" cy="592" r="2.55" fill="none" stroke="#111" stroke-width="1.25"/>
<line x1="280.8" y1="585.8" x2="294.2" y2="585.8" stroke="#000" stroke-width="2.1"/>
<path d="M286.50 564.30L286.50 568.70M284.59 565.40L288.41 567.60M284.59 567.60L288.41 565.40" stroke="#606060" stroke-width="1.4" stroke-linecap="round" fill="none"/>
<circle cx="304.5" cy="573.8" r="2.55" fill="none" stroke="#111" stroke-width="1.25"/>
<circle cx="304.5" cy="578" r="2.55" fill="none" stroke="#111" stroke-width="1.25"/>
<circle cx="304.5" cy="580.4" r="2.55" fill="none" stroke="#111" stroke-width="1.25"/>
<circle cx="304.5" cy="582.7" r="2.55" fill="none" stroke="#111" stroke-width="1.25"/>
<circle cx="304.5" cy="588.8" r="2.55" fill="none" stroke="#111" stroke-width="1.25"/>
<circle cx="304.5" cy="592" r="2.55" fill="none" stroke="#111" stroke-width="1.25"/>
<line x1="298.8" y1="585.8" x2="312.7" y2="585.8" stroke="#000" stroke-width="2.1"/>
<path d="M304.50 563.60L304.50 568.00M302.59 564.70L306.41 566.90M302.59 566.90L306.41 564.70" stroke="#606060" stroke-width="1.4" stroke-linecap="round" fill="none"/>
<circle cx="322.2" cy="569.6" r="2.55" fill="none" stroke="#111" stroke-width="1.25"/>
<circle cx="322.2" cy="580.4" r="2.55" fill="none" stroke="#111" stroke-width="1.25"/>
<circle cx="322.2" cy="582.7" r="2.55" fill="none" stroke="#111" stroke-width="1.25"/>
<circle cx="322.2" cy="585" r="2.55" fill="none" stroke="#111" stroke-width="1.25"/>
<circle cx="322.2" cy="588" r="2.55" fill="none" stroke="#111" stroke-width="1.25"/>
<circle cx="322.2" cy="590.4" r="2.55" fill="none" stroke="#111" stroke-width="1.25"/>
<circle cx="322.2" cy="592.7" r="2.55" fill="none" stroke="#111" stroke-width="1.25"/>
<line x1="316.5" y1="585.5" x2="330.0" y2="585.5" stroke="#000" stroke-width="2.1"/>
<path d="M322.20 559.70L322.20 564.10M320.29 560.80L324.11 563.00M320.29 563.00L324.11 560.80" stroke="#606060" stroke-width="1.4" stroke-linecap="round" fill="none"/>
<circle cx="356.9" cy="568.5" r="2.55" fill="none" stroke="#111" stroke-width="1.25"/>
<circle cx="356.9" cy="573.8" r="2.55" fill="none" stroke="#111" stroke-width="1.25"/>
<circle cx="356.9" cy="575.8" r="2.55" fill="none" stroke="#111" stroke-width="1.25"/>
<circle cx="356.9" cy="577.7" r="2.55" fill="none" stroke="#111" stroke-width="1.25"/>
<circle cx="356.9" cy="580.8" r="2.55" fill="none" stroke="#111" stroke-width="1.25"/>
<circle cx="356.9" cy="588.9" r="2.55" fill="none" stroke="#111" stroke-width="1.25"/>
<line x1="350.5" y1="579.0" x2="364.6" y2="579.0" stroke="#000" stroke-width="2.1"/>
<circle cx="375.4" cy="529.7" r="2.55" fill="none" stroke="#111" stroke-width="1.25"/>
<circle cx="375.4" cy="549.2" r="2.55" fill="none" stroke="#111" stroke-width="1.25"/>
<circle cx="375.4" cy="560.8" r="2.55" fill="none" stroke="#111" stroke-width="1.25"/>
<circle cx="375.4" cy="562.3" r="2.55" fill="none" stroke="#111" stroke-width="1.25"/>
<circle cx="375.4" cy="577.4" r="2.55" fill="none" stroke="#111" stroke-width="1.25"/>
<circle cx="375.4" cy="584.6" r="2.55" fill="none" stroke="#111" stroke-width="1.25"/>
<line x1="369.2" y1="565.2" x2="382.8" y2="565.2" stroke="#000" stroke-width="2.1"/>
<path d="M375.40 516.30L375.40 520.70M373.49 517.40L377.31 519.60M373.49 519.60L377.31 517.40" stroke="#606060" stroke-width="1.4" stroke-linecap="round" fill="none"/>
<circle cx="392.6" cy="563.8" r="2.55" fill="none" stroke="#111" stroke-width="1.25"/>
<circle cx="392.6" cy="567.7" r="2.55" fill="none" stroke="#111" stroke-width="1.25"/>
<circle cx="392.6" cy="570" r="2.55" fill="none" stroke="#111" stroke-width="1.25"/>
<circle cx="392.6" cy="572.3" r="2.55" fill="none" stroke="#111" stroke-width="1.25"/>
<circle cx="392.6" cy="574.6" r="2.55" fill="none" stroke="#111" stroke-width="1.25"/>
<circle cx="392.6" cy="577" r="2.55" fill="none" stroke="#111" stroke-width="1.25"/>
<circle cx="392.6" cy="590.3" r="2.55" fill="none" stroke="#111" stroke-width="1.25"/>
<line x1="386.2" y1="576.0" x2="400.0" y2="576.0" stroke="#000" stroke-width="2.1"/>
<circle cx="410.0" cy="533.8" r="2.55" fill="none" stroke="#111" stroke-width="1.25"/>
<circle cx="410.0" cy="541.5" r="2.55" fill="none" stroke="#111" stroke-width="1.25"/>
<circle cx="410.0" cy="556.5" r="2.55" fill="none" stroke="#111" stroke-width="1.25"/>
<circle cx="410.0" cy="566.6" r="2.55" fill="none" stroke="#111" stroke-width="1.25"/>
<circle cx="410.0" cy="570" r="2.55" fill="none" stroke="#111" stroke-width="1.25"/>
<circle cx="410.0" cy="582.3" r="2.55" fill="none" stroke="#111" stroke-width="1.25"/>
<line x1="403.4" y1="563.0" x2="417.0" y2="563.0" stroke="#000" stroke-width="2.1"/>
<path d="M410.00 517.30L410.00 521.70M408.09 518.40L411.91 520.60M408.09 520.60L411.91 518.40" stroke="#606060" stroke-width="1.4" stroke-linecap="round" fill="none"/>
<circle cx="445.4" cy="563" r="2.55" fill="none" stroke="#111" stroke-width="1.25"/>
<circle cx="445.4" cy="564.6" r="2.55" fill="none" stroke="#111" stroke-width="1.25"/>
<circle cx="445.4" cy="566.9" r="2.55" fill="none" stroke="#111" stroke-width="1.25"/>
<circle cx="445.4" cy="568.9" r="2.55" fill="none" stroke="#111" stroke-width="1.25"/>
<circle cx="445.4" cy="579.5" r="2.55" fill="none" stroke="#111" stroke-width="1.25"/>
<circle cx="445.4" cy="580.5" r="2.55" fill="none" stroke="#111" stroke-width="1.25"/>
<line x1="439.2" y1="571.5" x2="452.8" y2="571.5" stroke="#000" stroke-width="2.1"/>
<circle cx="462.6" cy="557.4" r="2.55" fill="none" stroke="#111" stroke-width="1.25"/>
<circle cx="462.6" cy="564.6" r="2.55" fill="none" stroke="#111" stroke-width="1.25"/>
<circle cx="462.6" cy="569.5" r="2.55" fill="none" stroke="#111" stroke-width="1.25"/>
<circle cx="462.6" cy="571.5" r="2.55" fill="none" stroke="#111" stroke-width="1.25"/>
<circle cx="462.6" cy="581.5" r="2.55" fill="none" stroke="#111" stroke-width="1.25"/>
<line x1="456.5" y1="573.0" x2="470.0" y2="573.0" stroke="#000" stroke-width="2.1"/>
<circle cx="480.0" cy="512.7" r="2.55" fill="none" stroke="#111" stroke-width="1.25"/>
<circle cx="480.0" cy="530" r="2.55" fill="none" stroke="#111" stroke-width="1.25"/>
<circle cx="480.0" cy="541.5" r="2.55" fill="none" stroke="#111" stroke-width="1.25"/>
<circle cx="480.0" cy="549.2" r="2.55" fill="none" stroke="#111" stroke-width="1.25"/>
<circle cx="480.0" cy="562.3" r="2.55" fill="none" stroke="#111" stroke-width="1.25"/>
<circle cx="480.0" cy="563.3" r="2.55" fill="none" stroke="#111" stroke-width="1.25"/>
<line x1="473.8" y1="545.8" x2="487.2" y2="545.8" stroke="#000" stroke-width="2.1"/>
<path d="M480.00 498.60L480.00 503.00M478.09 499.70L481.91 501.90M478.09 501.90L481.91 499.70" stroke="#606060" stroke-width="1.4" stroke-linecap="round" fill="none"/>
<circle cx="498.2" cy="479.3" r="2.55" fill="none" stroke="#111" stroke-width="1.25"/>
<circle cx="498.2" cy="491.2" r="2.55" fill="none" stroke="#111" stroke-width="1.25"/>
<circle cx="498.2" cy="505.8" r="2.55" fill="none" stroke="#111" stroke-width="1.25"/>
<circle cx="498.2" cy="535" r="2.55" fill="none" stroke="#111" stroke-width="1.25"/>
<circle cx="498.2" cy="542.8" r="2.55" fill="none" stroke="#111" stroke-width="1.25"/>
<circle cx="498.2" cy="552.6" r="2.55" fill="none" stroke="#111" stroke-width="1.25"/>
<line x1="492.3" y1="522.0" x2="505.7" y2="522.0" stroke="#000" stroke-width="2.1"/>
<path d="M495.00 464.30L495.00 468.70M493.09 465.40L496.91 467.60M493.09 467.60L496.91 465.40" stroke="#606060" stroke-width="1.4" stroke-linecap="round" fill="none"/>
<path d="M501.50 464.30L501.50 468.70M499.59 465.40L503.41 467.60M499.59 467.60L503.41 465.40" stroke="#606060" stroke-width="1.4" stroke-linecap="round" fill="none"/>
<text x="1.60" y="22.75" font-size="29.8" font-weight="bold" textLength="22.40" lengthAdjust="spacingAndGlyphs">A</text>
<text id="t_hCD1a" x="92.22" y="23.60" font-size="15.6" font-weight="bold">CD&#8199;a</text>
<path transform="translate(114.74,23.60) scale(0.00762,-0.00762)" d="M478 0L478 1170L140 959L140 1180L493 1409L759 1409L759 0Z" fill="#000"/>
<text x="163.35" y="23.20" font-size="15.6" font-weight="bold">CD40</text>
<text x="240.96" y="23.50" font-size="15.6" font-weight="bold">CD80</text>
<text x="293.23" y="25.00" font-size="15.6" font-weight="bold">HLA-ABC</text>
<text x="377.26" y="25.00" font-size="15.6" font-weight="bold">HLA-DR</text>
<text x="6.06" y="54.80" font-size="17.1" font-weight="bold">Medium</text>
<text x="33.57" y="93.80" font-size="17.1" font-weight="bold">IL-6</text>
<text x="41.54" y="116.00" font-size="17.1" font-weight="bold">Ab</text>
<text id="t_IL10" x="23.34" y="146.85" font-size="17.1" font-weight="bold">IL-&#8199;0</text>
<path transform="translate(44.22,146.85) scale(0.00835,-0.00835)" d="M478 0L478 1170L140 959L140 1180L493 1409L759 1409L759 0Z" fill="#000"/>
<text x="40.56" y="168.05" font-size="17.1" font-weight="bold">Ab</text>
<text id="t_TGF" x="5.69" y="194.58" font-size="17.1" font-weight="bold">TGF-<tspan font-family="Liberation Serif" font-weight="normal">&#946;</tspan>&#8199;</text>
<path transform="translate(54.27,194.58) scale(0.00835,-0.00835)" d="M478 0L478 1170L140 959L140 1180L493 1409L759 1409L759 0Z" fill="#000"/>
<text x="40.56" y="215.80" font-size="17.1" font-weight="bold">Ab</text>
<text x="42.29" y="247.90" font-size="17.1" font-weight="bold">Ab</text>
<text x="20.30" y="267.20" font-size="17.1" font-weight="bold" textLength="44.20" lengthAdjust="spacing">comb</text>
<text x="25.12" y="308.20" font-size="17.1" font-weight="bold">P38I</text>
<text x="7.58" y="345.65" font-size="17.1" font-weight="bold">IL-6 Ab</text>
<text x="14.33" y="367.00" font-size="17.1" font-weight="bold">+P38I</text>
<text x="0.94" y="435.95" font-size="30.2" font-weight="bold">B</text>
<text id="t_bCD1a" x="101.56" y="437.15" font-size="15.6" font-weight="bold" textLength="39.10" lengthAdjust="spacing">CD&#8199;a</text>
<path transform="translate(123.55,437.15) scale(0.00762,-0.00762)" d="M478 0L478 1170L140 959L140 1180L493 1409L759 1409L759 0Z" fill="#000"/>
<text x="190.69" y="437.15" font-size="15.6" font-weight="bold">CD40</text>
<text x="274.44" y="436.75" font-size="15.6" font-weight="bold">CD80</text>
<text x="346.03" y="436.80" font-size="15.6" font-weight="bold">HLA-ABC</text>
<text x="439.58" y="436.80" font-size="15.6" font-weight="bold">HLA-DR</text>
<text transform="translate(28.45,506.16) rotate(-90)" x="0" y="0" font-size="16" font-weight="bold" text-anchor="middle">MFI</text>
<text x="102.68" y="639.05" font-size="17.0" font-weight="bold" textLength="393.80" lengthAdjust="spacing">(A, Medium; B, IL-6 Ab; C, P38I; D, IL-6 Ab+P38I)</text>
<text x="88.02" y="616.20" font-size="17.1" font-weight="bold">A</text>
<text x="107.38" y="616.20" font-size="17.1" font-weight="bold">B</text>
<text x="125.50" y="616.16" font-size="17.1" font-weight="bold">C</text>
<text x="142.05" y="616.20" font-size="17.1" font-weight="bold">D</text>
<text x="175.42" y="616.20" font-size="17.1" font-weight="bold">A</text>
<text x="194.94" y="616.20" font-size="17.1" font-weight="bold">B</text>
<text x="211.99" y="616.16" font-size="17.1" font-weight="bold">C</text>
<text x="229.31" y="616.20" font-size="17.1" font-weight="bold">D</text>
<text x="264.05" y="616.20" font-size="17.1" font-weight="bold">A</text>
<text x="283.44" y="616.20" font-size="17.1" font-weight="bold">B</text>
<text x="301.18" y="616.16" font-size="17.1" font-weight="bold">C</text>
<text x="317.75" y="616.20" font-size="17.1" font-weight="bold">D</text>
<text x="351.19" y="616.20" font-size="17.1" font-weight="bold">A</text>
<text x="371.07" y="616.20" font-size="17.1" font-weight="bold">B</text>
<text x="388.55" y="616.16" font-size="17.1" font-weight="bold">C</text>
<text x="405.25" y="616.20" font-size="17.1" font-weight="bold">D</text>
<text x="438.15" y="616.20" font-size="17.1" font-weight="bold">A</text>
<text x="457.47" y="616.20" font-size="17.1" font-weight="bold">B</text>
<text x="475.06" y="616.16" font-size="17.1" font-weight="bold">C</text>
<text x="491.68" y="616.20" font-size="17.1" font-weight="bold">D</text>
</svg>
</body></html>
